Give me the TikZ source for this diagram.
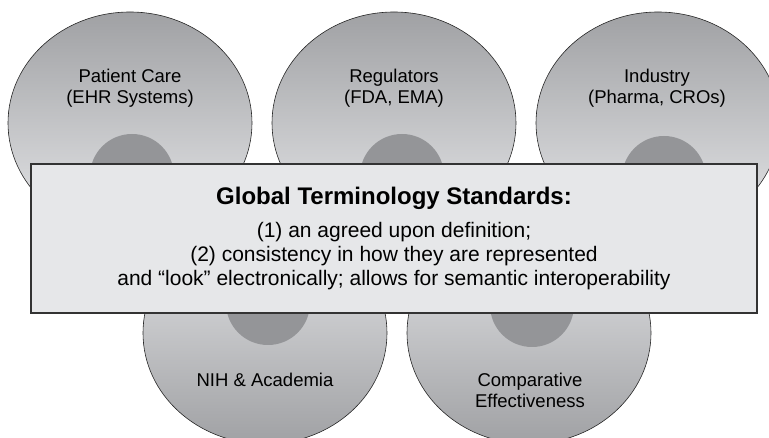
\documentclass[tikz,border=0pt]{standalone}
\usepackage{fontspec}
\setmainfont{Liberation Sans}
\usetikzlibrary{shapes}
\usetikzlibrary{positioning}
\definecolor{discdark}{RGB}{160,161,164}
\definecolor{disclight}{RGB}{230,231,233}
\definecolor{hubgray}{RGB}{148,149,152}
\definecolor{boxgray}{RGB}{230,231,233}
\tikzstyle{disc}=[ellipse,draw=black!85,line width=0.6pt,minimum width=244pt,minimum height=222pt,inner sep=0pt]
\tikzstyle{topdisc}=[disc,top color=discdark,bottom color=disclight]
\tikzstyle{bottomdisc}=[disc,top color=disclight,bottom color=discdark]
\tikzstyle{hub}=[circle,fill=hubgray,minimum size=84pt,inner sep=0pt]
\tikzstyle{stdbox}=[rectangle,draw=black!80,line width=1.2pt,fill=boxgray,minimum width=726pt,minimum height=149pt,inner sep=0pt]
\tikzstyle{disclabel}=[align=center,font=\fontsize{18.5}{21}\selectfont]
\tikzstyle{boxtitle}=[font=\fontsize{24}{28}\selectfont\bfseries]
\tikzstyle{boxtext}=[align=center,font=\fontsize{21}{24}\selectfont]

\begin{document}
\begin{tikzpicture}[x=1pt,y=-1pt]
    \useasboundingbox (0,0) rectangle (769,438);
    \clip (0,0) rectangle (769,438);
    % First we draw the discs
    \foreach \pos/\name in {{(130,123)/care}, {(394,123)/reg}, {(658,123)/ind}}
        \node[topdisc] (\name) at \pos {};
    \foreach \pos/\name in {{(265,333)/nih}, {(529,333)/comp}}
        \node[bottomdisc] (\name) at \pos {};

    % Then the hubs
    \foreach \pos/\name in {{(132,176)/carehub}, {(402,176)/reghub}, {(664,178)/indhub}, {(268,303)/nihhub}, {(532,305)/comphub}}
        \node[hub] (\name) at \pos {};

    % Labels on the discs
    \foreach \pos/\name/\txt in {{(130,88.5)/carelbl/{Patient Care\\(EHR Systems)}}, {(394,88.5)/reglbl/{Regulators\\(FDA, EMA)}}, {(657,88.5)/indlbl/{Industry\\(Pharma, CROs)}}, {(265,380)/nihlbl/{NIH \& Academia}}, {(530,390)/complbl/{Comparative\\Effectiveness}}}
        \node[disclabel] (\name) at \pos {\txt};

    % The standards box on top
    \node[stdbox] (std) at (394,238.5) {};
    \node[boxtitle,anchor=base] (stdtitle) at (394,205) {Global Terminology Standards:};
    \node[boxtext] (stdbody) at (394,256) {(1) an agreed upon definition;\\(2) consistency in how they are represented\\and “look” electronically; allows for semantic interoperability};
\end{tikzpicture}
\end{document}
